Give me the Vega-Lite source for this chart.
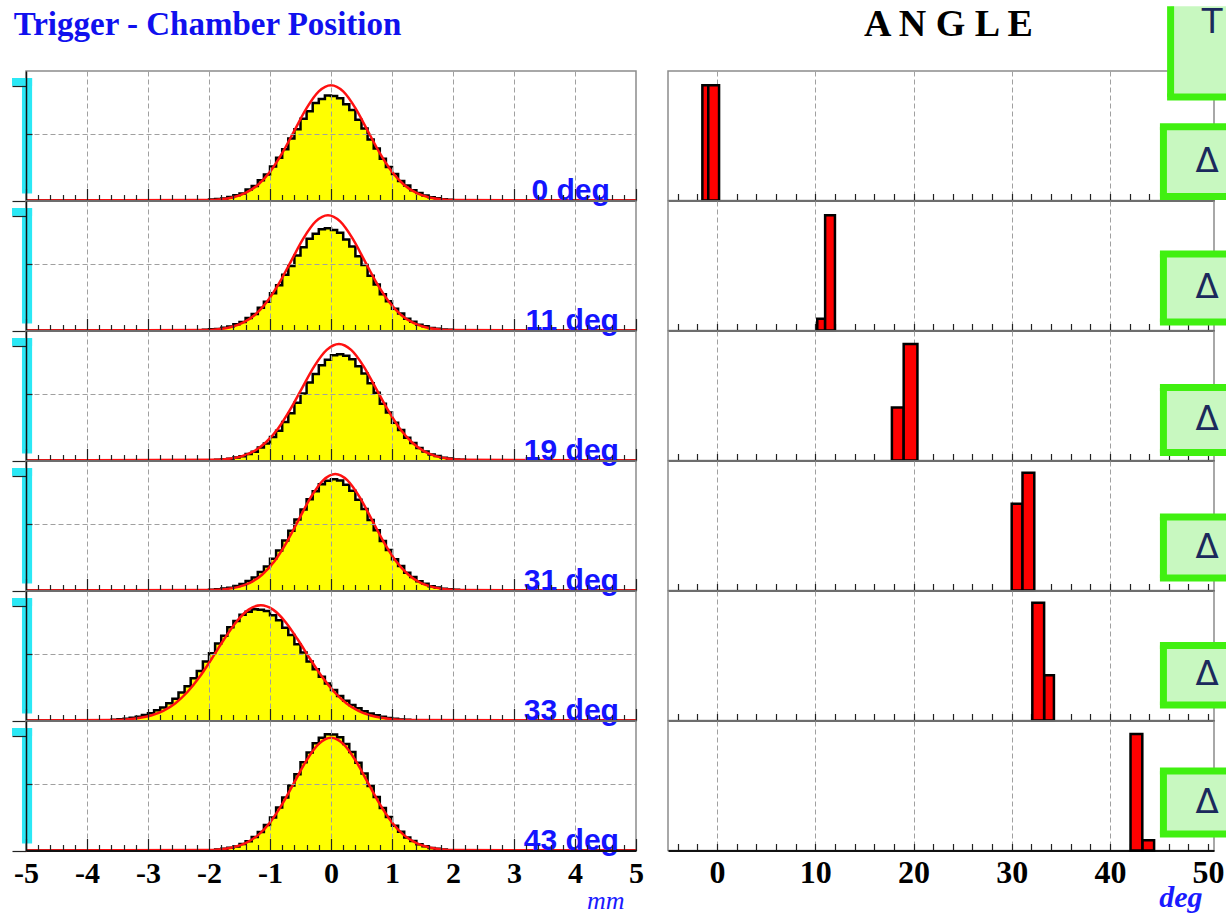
{
 "$schema": "https://vega.github.io/schema/vega-lite/v6.json",
 "background": "white",
 "padding": {"left": 10, "top": 2, "right": 0, "bottom": 0},
 "config": {
  "view": {"stroke": "#8c8c8c", "strokeWidth": 1.5},
  "axis": {"domainColor": "#111111", "domainWidth": 2, "tickColor": "#222222", "tickWidth": 1.2, "gridColor": "#a0a0a0", "gridDash": [5, 3], "gridWidth": 1, "labelFont": "Liberation Serif", "labelFontWeight": "bold", "labelColor": "black"}
 },
 "datasets": {
  "h": [
   {"a":0,"x":-5,"n":0},{"a":0,"x":-2.0,"n":0.008},{"a":0,"x":-1.9,"n":0.012},{"a":0,"x":-1.8,"n":0.016},{"a":0,"x":-1.7,"n":0.027},{"a":0,"x":-1.6,"n":0.040},{"a":0,"x":-1.5,"n":0.055},{"a":0,"x":-1.4,"n":0.084},{"a":0,"x":-1.3,"n":0.112},{"a":0,"x":-1.2,"n":0.156},{"a":0,"x":-1.1,"n":0.200},{"a":0,"x":-1.0,"n":0.262},{"a":0,"x":-0.9,"n":0.330},{"a":0,"x":-0.8,"n":0.396},{"a":0,"x":-0.7,"n":0.478},{"a":0,"x":-0.6,"n":0.550},{"a":0,"x":-0.5,"n":0.632},{"a":0,"x":-0.4,"n":0.690},{"a":0,"x":-0.3,"n":0.752},{"a":0,"x":-0.2,"n":0.784},{"a":0,"x":-0.1,"n":0.810},{"a":0,"x":0.0,"n":0.806},{"a":0,"x":0.1,"n":0.790},{"a":0,"x":0.2,"n":0.744},{"a":0,"x":0.3,"n":0.698},{"a":0,"x":0.4,"n":0.624},{"a":0,"x":0.5,"n":0.556},{"a":0,"x":0.6,"n":0.472},{"a":0,"x":0.7,"n":0.402},{"a":0,"x":0.8,"n":0.322},{"a":0,"x":0.9,"n":0.258},{"a":0,"x":1.0,"n":0.204},{"a":0,"x":1.1,"n":0.150},{"a":0,"x":1.2,"n":0.115},{"a":0,"x":1.3,"n":0.080},{"a":0,"x":1.4,"n":0.058},{"a":0,"x":1.5,"n":0.038},{"a":0,"x":1.6,"n":0.025},{"a":0,"x":1.7,"n":0.017},{"a":0,"x":1.8,"n":0.010},{"a":0,"x":1.9,"n":0.006},{"a":0,"x":2.0,"n":0},{"a":0,"x":5,"n":0},
   {"a":11,"x":-5,"n":0},{"a":11,"x":-2.1,"n":0.005},{"a":11,"x":-2.0,"n":0.009},{"a":11,"x":-1.9,"n":0.012},{"a":11,"x":-1.8,"n":0.022},{"a":11,"x":-1.7,"n":0.030},{"a":11,"x":-1.6,"n":0.048},{"a":11,"x":-1.5,"n":0.066},{"a":11,"x":-1.4,"n":0.096},{"a":11,"x":-1.3,"n":0.127},{"a":11,"x":-1.2,"n":0.175},{"a":11,"x":-1.1,"n":0.222},{"a":11,"x":-1.0,"n":0.288},{"a":11,"x":-0.9,"n":0.350},{"a":11,"x":-0.8,"n":0.430},{"a":11,"x":-0.7,"n":0.498},{"a":11,"x":-0.6,"n":0.580},{"a":11,"x":-0.5,"n":0.642},{"a":11,"x":-0.4,"n":0.708},{"a":11,"x":-0.3,"n":0.748},{"a":11,"x":-0.2,"n":0.782},{"a":11,"x":-0.1,"n":0.790},{"a":11,"x":0.0,"n":0.776},{"a":11,"x":0.1,"n":0.754},{"a":11,"x":0.2,"n":0.702},{"a":11,"x":0.3,"n":0.648},{"a":11,"x":0.4,"n":0.574},{"a":11,"x":0.5,"n":0.505},{"a":11,"x":0.6,"n":0.422},{"a":11,"x":0.7,"n":0.356},{"a":11,"x":0.8,"n":0.280},{"a":11,"x":0.9,"n":0.226},{"a":11,"x":1.0,"n":0.168},{"a":11,"x":1.1,"n":0.131},{"a":11,"x":1.2,"n":0.091},{"a":11,"x":1.3,"n":0.068},{"a":11,"x":1.4,"n":0.044},{"a":11,"x":1.5,"n":0.032},{"a":11,"x":1.6,"n":0.020},{"a":11,"x":1.7,"n":0.014},{"a":11,"x":1.8,"n":0.008},{"a":11,"x":1.9,"n":0.005},{"a":11,"x":2.0,"n":0},{"a":11,"x":5,"n":0},
   {"a":19,"x":-5,"n":0},{"a":19,"x":-1.9,"n":0.005},{"a":19,"x":-1.8,"n":0.010},{"a":19,"x":-1.7,"n":0.013},{"a":19,"x":-1.6,"n":0.023},{"a":19,"x":-1.5,"n":0.032},{"a":19,"x":-1.4,"n":0.050},{"a":19,"x":-1.3,"n":0.068},{"a":19,"x":-1.2,"n":0.100},{"a":19,"x":-1.1,"n":0.132},{"a":19,"x":-1.0,"n":0.182},{"a":19,"x":-0.9,"n":0.230},{"a":19,"x":-0.8,"n":0.298},{"a":19,"x":-0.7,"n":0.364},{"a":19,"x":-0.6,"n":0.446},{"a":19,"x":-0.5,"n":0.518},{"a":19,"x":-0.4,"n":0.602},{"a":19,"x":-0.3,"n":0.668},{"a":19,"x":-0.2,"n":0.735},{"a":19,"x":-0.1,"n":0.778},{"a":19,"x":0.0,"n":0.812},{"a":19,"x":0.1,"n":0.820},{"a":19,"x":0.2,"n":0.808},{"a":19,"x":0.3,"n":0.782},{"a":19,"x":0.4,"n":0.728},{"a":19,"x":0.5,"n":0.672},{"a":19,"x":0.6,"n":0.596},{"a":19,"x":0.7,"n":0.524},{"a":19,"x":0.8,"n":0.438},{"a":19,"x":0.9,"n":0.370},{"a":19,"x":1.0,"n":0.292},{"a":19,"x":1.1,"n":0.236},{"a":19,"x":1.2,"n":0.176},{"a":19,"x":1.3,"n":0.136},{"a":19,"x":1.4,"n":0.096},{"a":19,"x":1.5,"n":0.070},{"a":19,"x":1.6,"n":0.047},{"a":19,"x":1.7,"n":0.034},{"a":19,"x":1.8,"n":0.021},{"a":19,"x":1.9,"n":0.015},{"a":19,"x":2.0,"n":0.008},{"a":19,"x":2.1,"n":0.005},{"a":19,"x":2.2,"n":0},{"a":19,"x":5,"n":0},
   {"a":31,"x":-5,"n":0},{"a":31,"x":-2.0,"n":0.006},{"a":31,"x":-1.9,"n":0.009},{"a":31,"x":-1.8,"n":0.016},{"a":31,"x":-1.7,"n":0.022},{"a":31,"x":-1.6,"n":0.035},{"a":31,"x":-1.5,"n":0.050},{"a":31,"x":-1.4,"n":0.074},{"a":31,"x":-1.3,"n":0.101},{"a":31,"x":-1.2,"n":0.142},{"a":31,"x":-1.1,"n":0.185},{"a":31,"x":-1.0,"n":0.246},{"a":31,"x":-0.9,"n":0.308},{"a":31,"x":-0.8,"n":0.386},{"a":31,"x":-0.7,"n":0.462},{"a":31,"x":-0.6,"n":0.548},{"a":31,"x":-0.5,"n":0.626},{"a":31,"x":-0.4,"n":0.705},{"a":31,"x":-0.3,"n":0.766},{"a":31,"x":-0.2,"n":0.820},{"a":31,"x":-0.1,"n":0.848},{"a":31,"x":0.0,"n":0.860},{"a":31,"x":0.1,"n":0.850},{"a":31,"x":0.2,"n":0.816},{"a":31,"x":0.3,"n":0.770},{"a":31,"x":0.4,"n":0.700},{"a":31,"x":0.5,"n":0.630},{"a":31,"x":0.6,"n":0.544},{"a":31,"x":0.7,"n":0.466},{"a":31,"x":0.8,"n":0.382},{"a":31,"x":0.9,"n":0.312},{"a":31,"x":1.0,"n":0.242},{"a":31,"x":1.1,"n":0.189},{"a":31,"x":1.2,"n":0.138},{"a":31,"x":1.3,"n":0.104},{"a":31,"x":1.4,"n":0.071},{"a":31,"x":1.5,"n":0.052},{"a":31,"x":1.6,"n":0.033},{"a":31,"x":1.7,"n":0.024},{"a":31,"x":1.8,"n":0.014},{"a":31,"x":1.9,"n":0.010},{"a":31,"x":2.0,"n":0.006},{"a":31,"x":2.1,"n":0},{"a":31,"x":5,"n":0},
   {"a":33,"x":-5,"n":0},{"a":33,"x":-3.6,"n":0.006},{"a":33,"x":-3.5,"n":0.009},{"a":33,"x":-3.4,"n":0.013},{"a":33,"x":-3.3,"n":0.022},{"a":33,"x":-3.2,"n":0.028},{"a":33,"x":-3.1,"n":0.042},{"a":33,"x":-3.0,"n":0.056},{"a":33,"x":-2.9,"n":0.079},{"a":33,"x":-2.8,"n":0.100},{"a":33,"x":-2.7,"n":0.134},{"a":33,"x":-2.6,"n":0.168},{"a":33,"x":-2.5,"n":0.216},{"a":33,"x":-2.4,"n":0.264},{"a":33,"x":-2.3,"n":0.326},{"a":33,"x":-2.2,"n":0.383},{"a":33,"x":-2.1,"n":0.455},{"a":33,"x":-2.0,"n":0.520},{"a":33,"x":-1.9,"n":0.594},{"a":33,"x":-1.8,"n":0.655},{"a":33,"x":-1.7,"n":0.720},{"a":33,"x":-1.6,"n":0.768},{"a":33,"x":-1.5,"n":0.816},{"a":33,"x":-1.4,"n":0.840},{"a":33,"x":-1.3,"n":0.860},{"a":33,"x":-1.2,"n":0.856},{"a":33,"x":-1.1,"n":0.846},{"a":33,"x":-1.0,"n":0.812},{"a":33,"x":-0.9,"n":0.774},{"a":33,"x":-0.8,"n":0.716},{"a":33,"x":-0.7,"n":0.660},{"a":33,"x":-0.6,"n":0.588},{"a":33,"x":-0.5,"n":0.526},{"a":33,"x":-0.4,"n":0.455},{"a":33,"x":-0.3,"n":0.395},{"a":33,"x":-0.2,"n":0.338},{"a":33,"x":-0.1,"n":0.285},{"a":33,"x":0.0,"n":0.235},{"a":33,"x":0.1,"n":0.190},{"a":33,"x":0.2,"n":0.152},{"a":33,"x":0.3,"n":0.120},{"a":33,"x":0.4,"n":0.094},{"a":33,"x":0.5,"n":0.072},{"a":33,"x":0.6,"n":0.055},{"a":33,"x":0.7,"n":0.040},{"a":33,"x":0.8,"n":0.029},{"a":33,"x":0.9,"n":0.020},{"a":33,"x":1.0,"n":0.013},{"a":33,"x":1.1,"n":0.008},{"a":33,"x":1.2,"n":0.005},{"a":33,"x":1.3,"n":0},{"a":33,"x":5,"n":0},
   {"a":43,"x":-5,"n":0},{"a":43,"x":-1.9,"n":0.008},{"a":43,"x":-1.8,"n":0.013},{"a":43,"x":-1.7,"n":0.022},{"a":43,"x":-1.6,"n":0.031},{"a":43,"x":-1.5,"n":0.050},{"a":43,"x":-1.4,"n":0.071},{"a":43,"x":-1.3,"n":0.104},{"a":43,"x":-1.2,"n":0.142},{"a":43,"x":-1.1,"n":0.196},{"a":43,"x":-1.0,"n":0.255},{"a":43,"x":-0.9,"n":0.332},{"a":43,"x":-0.8,"n":0.410},{"a":43,"x":-0.7,"n":0.502},{"a":43,"x":-0.6,"n":0.588},{"a":43,"x":-0.5,"n":0.682},{"a":43,"x":-0.4,"n":0.757},{"a":43,"x":-0.3,"n":0.828},{"a":43,"x":-0.2,"n":0.870},{"a":43,"x":-0.1,"n":0.898},{"a":43,"x":0.0,"n":0.895},{"a":43,"x":0.1,"n":0.874},{"a":43,"x":0.2,"n":0.822},{"a":43,"x":0.3,"n":0.761},{"a":43,"x":0.4,"n":0.678},{"a":43,"x":0.5,"n":0.594},{"a":43,"x":0.6,"n":0.498},{"a":43,"x":0.7,"n":0.414},{"a":43,"x":0.8,"n":0.328},{"a":43,"x":0.9,"n":0.259},{"a":43,"x":1.0,"n":0.192},{"a":43,"x":1.1,"n":0.145},{"a":43,"x":1.2,"n":0.101},{"a":43,"x":1.3,"n":0.073},{"a":43,"x":1.4,"n":0.048},{"a":43,"x":1.5,"n":0.033},{"a":43,"x":1.6,"n":0.020},{"a":43,"x":1.7,"n":0.013},{"a":43,"x":1.8,"n":0.008},{"a":43,"x":1.9,"n":0},{"a":43,"x":5,"n":0}
  ],
  "f": [
   {"a":0,"x":-5,"n":0},{"a":0,"x":-2.0,"n":0.003},{"a":0,"x":-1.8,"n":0.010},{"a":0,"x":-1.6,"n":0.025},{"a":0,"x":-1.4,"n":0.058},{"a":0,"x":-1.2,"n":0.120},{"a":0,"x":-1.0,"n":0.222},{"a":0,"x":-0.8,"n":0.366},{"a":0,"x":-0.6,"n":0.540},{"a":0,"x":-0.4,"n":0.713},{"a":0,"x":-0.2,"n":0.842},{"a":0,"x":0,"n":0.89},{"a":0,"x":0.2,"n":0.842},{"a":0,"x":0.4,"n":0.713},{"a":0,"x":0.6,"n":0.540},{"a":0,"x":0.8,"n":0.366},{"a":0,"x":1.0,"n":0.222},{"a":0,"x":1.2,"n":0.120},{"a":0,"x":1.4,"n":0.058},{"a":0,"x":1.6,"n":0.025},{"a":0,"x":1.8,"n":0.010},{"a":0,"x":2.0,"n":0.003},{"a":0,"x":5,"n":0},
   {"a":11,"x":-5,"n":0},{"a":11,"x":-2.05,"n":0.003},{"a":11,"x":-1.85,"n":0.010},{"a":11,"x":-1.65,"n":0.025},{"a":11,"x":-1.45,"n":0.058},{"a":11,"x":-1.25,"n":0.120},{"a":11,"x":-1.05,"n":0.222},{"a":11,"x":-0.85,"n":0.366},{"a":11,"x":-0.65,"n":0.540},{"a":11,"x":-0.45,"n":0.713},{"a":11,"x":-0.25,"n":0.842},{"a":11,"x":-0.05,"n":0.89},{"a":11,"x":0.15,"n":0.842},{"a":11,"x":0.35,"n":0.713},{"a":11,"x":0.55,"n":0.540},{"a":11,"x":0.75,"n":0.366},{"a":11,"x":0.95,"n":0.222},{"a":11,"x":1.15,"n":0.120},{"a":11,"x":1.35,"n":0.058},{"a":11,"x":1.55,"n":0.025},{"a":11,"x":1.75,"n":0.010},{"a":11,"x":1.95,"n":0.003},{"a":11,"x":5,"n":0},
   {"a":19,"x":-5,"n":0},{"a":19,"x":-1.87,"n":0.005},{"a":19,"x":-1.67,"n":0.013},{"a":19,"x":-1.47,"n":0.032},{"a":19,"x":-1.27,"n":0.070},{"a":19,"x":-1.07,"n":0.139},{"a":19,"x":-0.87,"n":0.245},{"a":19,"x":-0.67,"n":0.392},{"a":19,"x":-0.47,"n":0.563},{"a":19,"x":-0.27,"n":0.731},{"a":19,"x":-0.07,"n":0.854},{"a":19,"x":0.13,"n":0.90},{"a":19,"x":0.33,"n":0.854},{"a":19,"x":0.53,"n":0.731},{"a":19,"x":0.73,"n":0.563},{"a":19,"x":0.93,"n":0.392},{"a":19,"x":1.13,"n":0.245},{"a":19,"x":1.33,"n":0.139},{"a":19,"x":1.53,"n":0.070},{"a":19,"x":1.73,"n":0.032},{"a":19,"x":1.93,"n":0.013},{"a":19,"x":2.13,"n":0.005},{"a":19,"x":5,"n":0},
   {"a":31,"x":-5,"n":0},{"a":31,"x":-1.93,"n":0.004},{"a":31,"x":-1.73,"n":0.010},{"a":31,"x":-1.53,"n":0.026},{"a":31,"x":-1.33,"n":0.059},{"a":31,"x":-1.13,"n":0.122},{"a":31,"x":-0.93,"n":0.224},{"a":31,"x":-0.73,"n":0.370},{"a":31,"x":-0.53,"n":0.546},{"a":31,"x":-0.33,"n":0.721},{"a":31,"x":-0.13,"n":0.851},{"a":31,"x":0.07,"n":0.90},{"a":31,"x":0.27,"n":0.851},{"a":31,"x":0.47,"n":0.721},{"a":31,"x":0.67,"n":0.546},{"a":31,"x":0.87,"n":0.370},{"a":31,"x":1.07,"n":0.224},{"a":31,"x":1.27,"n":0.122},{"a":31,"x":1.47,"n":0.059},{"a":31,"x":1.67,"n":0.026},{"a":31,"x":1.87,"n":0.010},{"a":31,"x":2.07,"n":0.004},{"a":31,"x":5,"n":0},
   {"a":33,"x":-5,"n":0},{"a":33,"x":-3.55,"n":0.003},{"a":33,"x":-3.35,"n":0.008},{"a":33,"x":-3.15,"n":0.019},{"a":33,"x":-2.95,"n":0.039},{"a":33,"x":-2.75,"n":0.075},{"a":33,"x":-2.55,"n":0.134},{"a":33,"x":-2.35,"n":0.222},{"a":33,"x":-2.15,"n":0.339},{"a":33,"x":-1.95,"n":0.481},{"a":33,"x":-1.75,"n":0.629},{"a":33,"x":-1.55,"n":0.763},{"a":33,"x":-1.35,"n":0.856},{"a":33,"x":-1.15,"n":0.89},{"a":33,"x":-0.95,"n":0.856},{"a":33,"x":-0.75,"n":0.763},{"a":33,"x":-0.55,"n":0.629},{"a":33,"x":-0.35,"n":0.481},{"a":33,"x":-0.15,"n":0.339},{"a":33,"x":0.05,"n":0.222},{"a":33,"x":0.25,"n":0.134},{"a":33,"x":0.45,"n":0.075},{"a":33,"x":0.65,"n":0.039},{"a":33,"x":0.85,"n":0.019},{"a":33,"x":1.05,"n":0.008},{"a":33,"x":1.25,"n":0.003},{"a":33,"x":5,"n":0},
   {"a":43,"x":-5,"n":0},{"a":43,"x":-2.0,"n":0.003},{"a":43,"x":-1.8,"n":0.010},{"a":43,"x":-1.6,"n":0.025},{"a":43,"x":-1.4,"n":0.057},{"a":43,"x":-1.2,"n":0.117},{"a":43,"x":-1.0,"n":0.217},{"a":43,"x":-0.8,"n":0.358},{"a":43,"x":-0.6,"n":0.528},{"a":43,"x":-0.4,"n":0.697},{"a":43,"x":-0.2,"n":0.823},{"a":43,"x":0,"n":0.87},{"a":43,"x":0.2,"n":0.823},{"a":43,"x":0.4,"n":0.697},{"a":43,"x":0.6,"n":0.528},{"a":43,"x":0.8,"n":0.358},{"a":43,"x":1.0,"n":0.217},{"a":43,"x":1.2,"n":0.117},{"a":43,"x":1.4,"n":0.057},{"a":43,"x":1.6,"n":0.025},{"a":43,"x":1.8,"n":0.010},{"a":43,"x":2.0,"n":0.003},{"a":43,"x":5,"n":0}
  ],
  "b": [
   {"a":0,"lo":-1.5,"hi":-0.9,"n":0.89},{"a":0,"lo":-0.9,"hi":0.2,"n":0.89},
   {"a":11,"lo":10.2,"hi":11.0,"n":0.09},{"a":11,"lo":11.0,"hi":12.0,"n":0.89},
   {"a":19,"lo":17.8,"hi":19.0,"n":0.41},{"a":19,"lo":19.0,"hi":20.4,"n":0.90},
   {"a":31,"lo":30.0,"hi":31.1,"n":0.67},{"a":31,"lo":31.1,"hi":32.3,"n":0.91},
   {"a":33,"lo":33.3,"hi":34.3,"n":0.35},{"a":33,"lo":32.1,"hi":33.3,"n":0.91},
   {"a":43,"lo":43.3,"hi":44.5,"n":0.08},{"a":43,"lo":42.1,"hi":43.3,"n":0.90}
  ]
 },
 "spacing": 22,
 "hconcat": [
  {
   "title": {"text": "Trigger - Chamber Position", "anchor": "start", "font": "Liberation Serif", "fontSize": 33, "fontWeight": "bold", "color": "#1010ee", "offset": 28, "dx": 3},
   "spacing": 0,
   "bounds": "flush",
   "vconcat": [
    {"width": 610, "height": 129.5, "layer": [
     {"data": {"values": [{}]}, "mark": {"type": "rect", "color": "#2be8f5"}, "encoding": {"x": {"datum": -5.066}, "x2": {"datum": -4.9}, "y": {"datum": 0.054}, "y2": {"datum": 0.946}}},
     {"data": {"values": [{}]}, "mark": {"type": "rect", "color": "#2be8f5"}, "encoding": {"x": {"datum": -5.23}, "x2": {"datum": -4.9}, "y": {"datum": 0.885}, "y2": {"datum": 0.946}}},
     {"data": {"name": "h"}, "transform": [{"filter": "datum.a == 0"}], "mark": {"type": "area", "interpolate": "step-after", "color": "#ffff00"},
      "encoding": {"x": {"field": "x", "type": "quantitative", "scale": {"domain": [-5, 5], "nice": false, "zero": false}, "axis": {"zindex": 1, "tickCount": 50, "labels": false, "title": null, "grid": true, "tickSize": {"condition": {"test": "abs(datum.value - round(datum.value)) < 0.01", "value": -12}, "value": -6}, "gridOpacity": {"condition": {"test": "abs(datum.value - round(datum.value)) < 0.01 && abs(datum.value) < 4.5", "value": 1}, "value": 0}}},
       "y": {"field": "n", "type": "quantitative", "scale": {"domain": [0, 1], "nice": false}, "axis": {"zindex": 1, "values": [0, 0.26, 0.51, 0.77, 0.885], "labels": false, "title": null, "grid": true, "gridOpacity": {"condition": {"test": "abs(datum.value - 0.51) < 0.01", "value": 1}, "value": 0}, "tickSize": {"condition": {"test": "datum.value < 0.01 || datum.value > 0.88", "value": 14}, "value": -6}, "domainWidth": 1.5}}}},
     {"data": {"name": "h"}, "transform": [{"filter": "datum.a == 0"}], "mark": {"type": "line", "interpolate": "step-after", "color": "black", "strokeWidth": 2.5}, "encoding": {"x": {"field": "x", "type": "quantitative"}, "y": {"field": "n", "type": "quantitative"}}},
     {"data": {"name": "f"}, "transform": [{"filter": "datum.a == 0"}], "mark": {"type": "line", "interpolate": "monotone", "color": "#ff1010", "strokeWidth": 2.5}, "encoding": {"x": {"field": "x", "type": "quantitative"}, "y": {"field": "n", "type": "quantitative"}}},
     {"data": {"values": [{"t": "0 deg"}]}, "mark": {"type": "text", "align": "right", "baseline": "alphabetic", "font": "Liberation Sans", "fontWeight": "bold", "fontSize": 30, "color": "#1414ff", "dy": -1}, "encoding": {"x": {"datum": 4.57}, "y": {"datum": 0}, "text": {"field": "t"}}}
    ]},
    {"width": 610, "height": 129.5, "layer": [
     {"data": {"values": [{}]}, "mark": {"type": "rect", "color": "#2be8f5"}, "encoding": {"x": {"datum": -5.066}, "x2": {"datum": -4.9}, "y": {"datum": 0.054}, "y2": {"datum": 0.946}}},
     {"data": {"values": [{}]}, "mark": {"type": "rect", "color": "#2be8f5"}, "encoding": {"x": {"datum": -5.23}, "x2": {"datum": -4.9}, "y": {"datum": 0.885}, "y2": {"datum": 0.946}}},
     {"data": {"name": "h"}, "transform": [{"filter": "datum.a == 11"}], "mark": {"type": "area", "interpolate": "step-after", "color": "#ffff00"},
      "encoding": {"x": {"field": "x", "type": "quantitative", "scale": {"domain": [-5, 5], "nice": false, "zero": false}, "axis": {"zindex": 1, "tickCount": 50, "labels": false, "title": null, "grid": true, "tickSize": {"condition": {"test": "abs(datum.value - round(datum.value)) < 0.01", "value": -12}, "value": -6}, "gridOpacity": {"condition": {"test": "abs(datum.value - round(datum.value)) < 0.01 && abs(datum.value) < 4.5", "value": 1}, "value": 0}}},
       "y": {"field": "n", "type": "quantitative", "scale": {"domain": [0, 1], "nice": false}, "axis": {"zindex": 1, "values": [0, 0.26, 0.51, 0.77, 0.885], "labels": false, "title": null, "grid": true, "gridOpacity": {"condition": {"test": "abs(datum.value - 0.51) < 0.01", "value": 1}, "value": 0}, "tickSize": {"condition": {"test": "datum.value < 0.01 || datum.value > 0.88", "value": 14}, "value": -6}, "domainWidth": 1.5}}}},
     {"data": {"name": "h"}, "transform": [{"filter": "datum.a == 11"}], "mark": {"type": "line", "interpolate": "step-after", "color": "black", "strokeWidth": 2.5}, "encoding": {"x": {"field": "x", "type": "quantitative"}, "y": {"field": "n", "type": "quantitative"}}},
     {"data": {"name": "f"}, "transform": [{"filter": "datum.a == 11"}], "mark": {"type": "line", "interpolate": "monotone", "color": "#ff1010", "strokeWidth": 2.5}, "encoding": {"x": {"field": "x", "type": "quantitative"}, "y": {"field": "n", "type": "quantitative"}}},
     {"data": {"values": [{"t": "11 deg"}]}, "mark": {"type": "text", "align": "right", "baseline": "alphabetic", "font": "Liberation Sans", "fontWeight": "bold", "fontSize": 30, "color": "#1414ff", "dy": -1}, "encoding": {"x": {"datum": 4.72}, "y": {"datum": 0}, "text": {"field": "t"}}}
    ]},
    {"width": 610, "height": 129.5, "layer": [
     {"data": {"values": [{}]}, "mark": {"type": "rect", "color": "#2be8f5"}, "encoding": {"x": {"datum": -5.066}, "x2": {"datum": -4.9}, "y": {"datum": 0.054}, "y2": {"datum": 0.946}}},
     {"data": {"values": [{}]}, "mark": {"type": "rect", "color": "#2be8f5"}, "encoding": {"x": {"datum": -5.23}, "x2": {"datum": -4.9}, "y": {"datum": 0.885}, "y2": {"datum": 0.946}}},
     {"data": {"name": "h"}, "transform": [{"filter": "datum.a == 19"}], "mark": {"type": "area", "interpolate": "step-after", "color": "#ffff00"},
      "encoding": {"x": {"field": "x", "type": "quantitative", "scale": {"domain": [-5, 5], "nice": false, "zero": false}, "axis": {"zindex": 1, "tickCount": 50, "labels": false, "title": null, "grid": true, "tickSize": {"condition": {"test": "abs(datum.value - round(datum.value)) < 0.01", "value": -12}, "value": -6}, "gridOpacity": {"condition": {"test": "abs(datum.value - round(datum.value)) < 0.01 && abs(datum.value) < 4.5", "value": 1}, "value": 0}}},
       "y": {"field": "n", "type": "quantitative", "scale": {"domain": [0, 1], "nice": false}, "axis": {"zindex": 1, "values": [0, 0.26, 0.51, 0.77, 0.885], "labels": false, "title": null, "grid": true, "gridOpacity": {"condition": {"test": "abs(datum.value - 0.51) < 0.01", "value": 1}, "value": 0}, "tickSize": {"condition": {"test": "datum.value < 0.01 || datum.value > 0.88", "value": 14}, "value": -6}, "domainWidth": 1.5}}}},
     {"data": {"name": "h"}, "transform": [{"filter": "datum.a == 19"}], "mark": {"type": "line", "interpolate": "step-after", "color": "black", "strokeWidth": 2.5}, "encoding": {"x": {"field": "x", "type": "quantitative"}, "y": {"field": "n", "type": "quantitative"}}},
     {"data": {"name": "f"}, "transform": [{"filter": "datum.a == 19"}], "mark": {"type": "line", "interpolate": "monotone", "color": "#ff1010", "strokeWidth": 2.5}, "encoding": {"x": {"field": "x", "type": "quantitative"}, "y": {"field": "n", "type": "quantitative"}}},
     {"data": {"values": [{"t": "19 deg"}]}, "mark": {"type": "text", "align": "right", "baseline": "alphabetic", "font": "Liberation Sans", "fontWeight": "bold", "fontSize": 30, "color": "#1414ff", "dy": -1}, "encoding": {"x": {"datum": 4.72}, "y": {"datum": 0}, "text": {"field": "t"}}}
    ]},
    {"width": 610, "height": 129.5, "layer": [
     {"data": {"values": [{}]}, "mark": {"type": "rect", "color": "#2be8f5"}, "encoding": {"x": {"datum": -5.066}, "x2": {"datum": -4.9}, "y": {"datum": 0.054}, "y2": {"datum": 0.946}}},
     {"data": {"values": [{}]}, "mark": {"type": "rect", "color": "#2be8f5"}, "encoding": {"x": {"datum": -5.23}, "x2": {"datum": -4.9}, "y": {"datum": 0.885}, "y2": {"datum": 0.946}}},
     {"data": {"name": "h"}, "transform": [{"filter": "datum.a == 31"}], "mark": {"type": "area", "interpolate": "step-after", "color": "#ffff00"},
      "encoding": {"x": {"field": "x", "type": "quantitative", "scale": {"domain": [-5, 5], "nice": false, "zero": false}, "axis": {"zindex": 1, "tickCount": 50, "labels": false, "title": null, "grid": true, "tickSize": {"condition": {"test": "abs(datum.value - round(datum.value)) < 0.01", "value": -12}, "value": -6}, "gridOpacity": {"condition": {"test": "abs(datum.value - round(datum.value)) < 0.01 && abs(datum.value) < 4.5", "value": 1}, "value": 0}}},
       "y": {"field": "n", "type": "quantitative", "scale": {"domain": [0, 1], "nice": false}, "axis": {"zindex": 1, "values": [0, 0.26, 0.51, 0.77, 0.885], "labels": false, "title": null, "grid": true, "gridOpacity": {"condition": {"test": "abs(datum.value - 0.51) < 0.01", "value": 1}, "value": 0}, "tickSize": {"condition": {"test": "datum.value < 0.01 || datum.value > 0.88", "value": 14}, "value": -6}, "domainWidth": 1.5}}}},
     {"data": {"name": "h"}, "transform": [{"filter": "datum.a == 31"}], "mark": {"type": "line", "interpolate": "step-after", "color": "black", "strokeWidth": 2.5}, "encoding": {"x": {"field": "x", "type": "quantitative"}, "y": {"field": "n", "type": "quantitative"}}},
     {"data": {"name": "f"}, "transform": [{"filter": "datum.a == 31"}], "mark": {"type": "line", "interpolate": "monotone", "color": "#ff1010", "strokeWidth": 2.5}, "encoding": {"x": {"field": "x", "type": "quantitative"}, "y": {"field": "n", "type": "quantitative"}}},
     {"data": {"values": [{"t": "31 deg"}]}, "mark": {"type": "text", "align": "right", "baseline": "alphabetic", "font": "Liberation Sans", "fontWeight": "bold", "fontSize": 30, "color": "#1414ff", "dy": -1}, "encoding": {"x": {"datum": 4.72}, "y": {"datum": 0}, "text": {"field": "t"}}}
    ]},
    {"width": 610, "height": 129.5, "layer": [
     {"data": {"values": [{}]}, "mark": {"type": "rect", "color": "#2be8f5"}, "encoding": {"x": {"datum": -5.066}, "x2": {"datum": -4.9}, "y": {"datum": 0.054}, "y2": {"datum": 0.946}}},
     {"data": {"values": [{}]}, "mark": {"type": "rect", "color": "#2be8f5"}, "encoding": {"x": {"datum": -5.23}, "x2": {"datum": -4.9}, "y": {"datum": 0.885}, "y2": {"datum": 0.946}}},
     {"data": {"name": "h"}, "transform": [{"filter": "datum.a == 33"}], "mark": {"type": "area", "interpolate": "step-after", "color": "#ffff00"},
      "encoding": {"x": {"field": "x", "type": "quantitative", "scale": {"domain": [-5, 5], "nice": false, "zero": false}, "axis": {"zindex": 1, "tickCount": 50, "labels": false, "title": null, "grid": true, "tickSize": {"condition": {"test": "abs(datum.value - round(datum.value)) < 0.01", "value": -12}, "value": -6}, "gridOpacity": {"condition": {"test": "abs(datum.value - round(datum.value)) < 0.01 && abs(datum.value) < 4.5", "value": 1}, "value": 0}}},
       "y": {"field": "n", "type": "quantitative", "scale": {"domain": [0, 1], "nice": false}, "axis": {"zindex": 1, "values": [0, 0.26, 0.51, 0.77, 0.885], "labels": false, "title": null, "grid": true, "gridOpacity": {"condition": {"test": "abs(datum.value - 0.51) < 0.01", "value": 1}, "value": 0}, "tickSize": {"condition": {"test": "datum.value < 0.01 || datum.value > 0.88", "value": 14}, "value": -6}, "domainWidth": 1.5}}}},
     {"data": {"name": "h"}, "transform": [{"filter": "datum.a == 33"}], "mark": {"type": "line", "interpolate": "step-after", "color": "black", "strokeWidth": 2.5}, "encoding": {"x": {"field": "x", "type": "quantitative"}, "y": {"field": "n", "type": "quantitative"}}},
     {"data": {"name": "f"}, "transform": [{"filter": "datum.a == 33"}], "mark": {"type": "line", "interpolate": "monotone", "color": "#ff1010", "strokeWidth": 2.5}, "encoding": {"x": {"field": "x", "type": "quantitative"}, "y": {"field": "n", "type": "quantitative"}}},
     {"data": {"values": [{"t": "33 deg"}]}, "mark": {"type": "text", "align": "right", "baseline": "alphabetic", "font": "Liberation Sans", "fontWeight": "bold", "fontSize": 30, "color": "#1414ff", "dy": -1}, "encoding": {"x": {"datum": 4.72}, "y": {"datum": 0}, "text": {"field": "t"}}}
    ]},
    {"width": 610, "height": 129.5, "layer": [
     {"data": {"values": [{}]}, "mark": {"type": "rect", "color": "#2be8f5"}, "encoding": {"x": {"datum": -5.066}, "x2": {"datum": -4.9}, "y": {"datum": 0.054}, "y2": {"datum": 0.946}}},
     {"data": {"values": [{}]}, "mark": {"type": "rect", "color": "#2be8f5"}, "encoding": {"x": {"datum": -5.23}, "x2": {"datum": -4.9}, "y": {"datum": 0.885}, "y2": {"datum": 0.946}}},
     {"data": {"name": "h"}, "transform": [{"filter": "datum.a == 43"}], "mark": {"type": "area", "interpolate": "step-after", "color": "#ffff00"},
      "encoding": {"x": {"field": "x", "type": "quantitative", "scale": {"domain": [-5, 5], "nice": false, "zero": false}, "axis": {"zindex": 1, "tickCount": 50, "labels": true, "labelExpr": "abs(datum.value - round(datum.value)) < 0.01 ? '' + round(datum.value) : ''", "labelOverlap": false, "labelFlush": false, "labelFontSize": 30, "labelPadding": 20, "title": "mm", "titleFont": "Liberation Serif", "titleFontStyle": "italic", "titleFontWeight": "normal", "titleFontSize": 26, "titleColor": "#1a1aff", "titleAnchor": "end", "titleAlign": "right", "titleX": 598, "titleY": 50, "titleBaseline": "middle", "grid": true, "tickSize": {"condition": {"test": "abs(datum.value - round(datum.value)) < 0.01", "value": -12}, "value": -6}, "gridOpacity": {"condition": {"test": "abs(datum.value - round(datum.value)) < 0.01 && abs(datum.value) < 4.5", "value": 1}, "value": 0}}},
       "y": {"field": "n", "type": "quantitative", "scale": {"domain": [0, 1], "nice": false}, "axis": {"zindex": 1, "values": [0, 0.26, 0.51, 0.77, 0.885], "labels": false, "title": null, "grid": true, "gridOpacity": {"condition": {"test": "abs(datum.value - 0.51) < 0.01", "value": 1}, "value": 0}, "tickSize": {"condition": {"test": "datum.value < 0.01 || datum.value > 0.88", "value": 14}, "value": -6}, "domainWidth": 1.5}}}},
     {"data": {"name": "h"}, "transform": [{"filter": "datum.a == 43"}], "mark": {"type": "line", "interpolate": "step-after", "color": "black", "strokeWidth": 2.5}, "encoding": {"x": {"field": "x", "type": "quantitative"}, "y": {"field": "n", "type": "quantitative"}}},
     {"data": {"name": "f"}, "transform": [{"filter": "datum.a == 43"}], "mark": {"type": "line", "interpolate": "monotone", "color": "#ff1010", "strokeWidth": 2.5}, "encoding": {"x": {"field": "x", "type": "quantitative"}, "y": {"field": "n", "type": "quantitative"}}},
     {"data": {"values": [{"t": "43 deg"}]}, "mark": {"type": "text", "align": "right", "baseline": "alphabetic", "font": "Liberation Sans", "fontWeight": "bold", "fontSize": 30, "color": "#1414ff", "dy": -1}, "encoding": {"x": {"datum": 4.72}, "y": {"datum": 0}, "text": {"field": "t"}}}
    ]}
   ]
  },
  {
   "title": {"text": "A N G L E", "anchor": "middle", "font": "Liberation Serif", "fontSize": 38, "fontWeight": "bold", "color": "black", "offset": -42},
   "spacing": 0,
   "bounds": "flush",
   "vconcat": [
    {"width": 546, "height": 129.5, "layer": [
     {"data": {"name": "b"}, "transform": [{"filter": "datum.a == 0"}], "mark": {"type": "rect", "color": "#ff0000", "stroke": "black", "strokeWidth": 2.5},
      "encoding": {"x": {"field": "lo", "type": "quantitative", "scale": {"domain": [-5, 50.6], "nice": false, "zero": false}, "axis": {"tickCount": 28, "labels": false, "title": null, "grid": true, "tickSize": -7, "gridOpacity": {"condition": {"test": "datum.value % 10 == 0 && datum.value < 45", "value": 1}, "value": 0}}}, "x2": {"field": "hi"}, "y": {"field": "n", "type": "quantitative", "scale": {"domain": [0, 1], "nice": false}, "axis": null}, "y2": {"datum": 0}}},
     {"data": {"values": [{}]}, "mark": {"type": "rect", "color": "#c8f8c0"}, "encoding": {"x": {"datum": 46.18}, "x2": {"datum": 51.95}, "y": {"datum": 0.8}, "y2": {"datum": 1.5}}},
     {"data": {"values": [{}]}, "mark": {"type": "rule", "color": "#40f010", "strokeWidth": 7, "strokeCap": "butt"}, "encoding": {"x": {"datum": 46.18}, "y": {"datum": 0.8}, "y2": {"datum": 1.5}}},
     {"data": {"values": [{}]}, "mark": {"type": "rule", "color": "#40f010", "strokeWidth": 7, "strokeCap": "square"}, "encoding": {"x": {"datum": 46.18}, "x2": {"datum": 51.6}, "y": {"datum": 0.8}}},
     {"data": {"values": [{"t": "T"}]}, "mark": {"type": "text", "font": "DejaVu Sans", "fontSize": 34, "color": "#1b2a5c", "align": "center", "baseline": "middle"}, "encoding": {"x": {"datum": 50.4}, "y": {"datum": 1.37}, "text": {"field": "t"}}},
     {"data": {"values": [{}]}, "mark": {"type": "rect", "color": "#c8f8c0"}, "encoding": {"x": {"datum": 45.45}, "x2": {"datum": 51.95}, "y": {"datum": 0.03}, "y2": {"datum": 0.57}}},
     {"data": {"values": [{}]}, "mark": {"type": "rule", "color": "#40f010", "strokeWidth": 7, "strokeCap": "butt"}, "encoding": {"x": {"datum": 45.45}, "y": {"datum": 0.03}, "y2": {"datum": 0.57}}},
     {"data": {"values": [{}]}, "mark": {"type": "rule", "color": "#40f010", "strokeWidth": 7, "strokeCap": "square"}, "encoding": {"x": {"datum": 45.45}, "x2": {"datum": 51.6}, "y": {"datum": 0.57}}},
     {"data": {"values": [{}]}, "mark": {"type": "rule", "color": "#40f010", "strokeWidth": 7, "strokeCap": "square"}, "encoding": {"x": {"datum": 45.45}, "x2": {"datum": 51.6}, "y": {"datum": 0.03}}},
     {"data": {"values": [{"t": "Δ"}]}, "mark": {"type": "text", "font": "DejaVu Sans", "fontSize": 34, "color": "#1b2a5c", "align": "center", "baseline": "middle"}, "encoding": {"x": {"datum": 49.9}, "y": {"datum": 0.30}, "text": {"field": "t"}}}
    ]},
    {"width": 546, "height": 129.5, "layer": [
     {"data": {"name": "b"}, "transform": [{"filter": "datum.a == 11"}], "mark": {"type": "rect", "color": "#ff0000", "stroke": "black", "strokeWidth": 2.5},
      "encoding": {"x": {"field": "lo", "type": "quantitative", "scale": {"domain": [-5, 50.6], "nice": false, "zero": false}, "axis": {"tickCount": 28, "labels": false, "title": null, "grid": true, "tickSize": -7, "gridOpacity": {"condition": {"test": "datum.value % 10 == 0 && datum.value < 45", "value": 1}, "value": 0}}}, "x2": {"field": "hi"}, "y": {"field": "n", "type": "quantitative", "scale": {"domain": [0, 1], "nice": false}, "axis": null}, "y2": {"datum": 0}}},
     {"data": {"values": [{}]}, "mark": {"type": "rect", "color": "#c8f8c0"}, "encoding": {"x": {"datum": 45.45}, "x2": {"datum": 51.95}, "y": {"datum": 0.066}, "y2": {"datum": 0.59}}},
     {"data": {"values": [{}]}, "mark": {"type": "rule", "color": "#40f010", "strokeWidth": 7, "strokeCap": "butt"}, "encoding": {"x": {"datum": 45.45}, "y": {"datum": 0.066}, "y2": {"datum": 0.59}}},
     {"data": {"values": [{}]}, "mark": {"type": "rule", "color": "#40f010", "strokeWidth": 7, "strokeCap": "square"}, "encoding": {"x": {"datum": 45.45}, "x2": {"datum": 51.6}, "y": {"datum": 0.59}}},
     {"data": {"values": [{}]}, "mark": {"type": "rule", "color": "#40f010", "strokeWidth": 7, "strokeCap": "square"}, "encoding": {"x": {"datum": 45.45}, "x2": {"datum": 51.6}, "y": {"datum": 0.066}}},
     {"data": {"values": [{"t": "Δ"}]}, "mark": {"type": "text", "font": "DejaVu Sans", "fontSize": 34, "color": "#1b2a5c", "align": "center", "baseline": "middle"}, "encoding": {"x": {"datum": 49.9}, "y": {"datum": 0.33}, "text": {"field": "t"}}}
    ]},
    {"width": 546, "height": 129.5, "layer": [
     {"data": {"name": "b"}, "transform": [{"filter": "datum.a == 19"}], "mark": {"type": "rect", "color": "#ff0000", "stroke": "black", "strokeWidth": 2.5},
      "encoding": {"x": {"field": "lo", "type": "quantitative", "scale": {"domain": [-5, 50.6], "nice": false, "zero": false}, "axis": {"tickCount": 28, "labels": false, "title": null, "grid": true, "tickSize": -7, "gridOpacity": {"condition": {"test": "datum.value % 10 == 0 && datum.value < 45", "value": 1}, "value": 0}}}, "x2": {"field": "hi"}, "y": {"field": "n", "type": "quantitative", "scale": {"domain": [0, 1], "nice": false}, "axis": null}, "y2": {"datum": 0}}},
     {"data": {"values": [{}]}, "mark": {"type": "rect", "color": "#c8f8c0"}, "encoding": {"x": {"datum": 45.45}, "x2": {"datum": 51.95}, "y": {"datum": 0.062}, "y2": {"datum": 0.563}}},
     {"data": {"values": [{}]}, "mark": {"type": "rule", "color": "#40f010", "strokeWidth": 7, "strokeCap": "butt"}, "encoding": {"x": {"datum": 45.45}, "y": {"datum": 0.062}, "y2": {"datum": 0.563}}},
     {"data": {"values": [{}]}, "mark": {"type": "rule", "color": "#40f010", "strokeWidth": 7, "strokeCap": "square"}, "encoding": {"x": {"datum": 45.45}, "x2": {"datum": 51.6}, "y": {"datum": 0.563}}},
     {"data": {"values": [{}]}, "mark": {"type": "rule", "color": "#40f010", "strokeWidth": 7, "strokeCap": "square"}, "encoding": {"x": {"datum": 45.45}, "x2": {"datum": 51.6}, "y": {"datum": 0.062}}},
     {"data": {"values": [{"t": "Δ"}]}, "mark": {"type": "text", "font": "DejaVu Sans", "fontSize": 34, "color": "#1b2a5c", "align": "center", "baseline": "middle"}, "encoding": {"x": {"datum": 49.9}, "y": {"datum": 0.31}, "text": {"field": "t"}}}
    ]},
    {"width": 546, "height": 129.5, "layer": [
     {"data": {"name": "b"}, "transform": [{"filter": "datum.a == 31"}], "mark": {"type": "rect", "color": "#ff0000", "stroke": "black", "strokeWidth": 2.5},
      "encoding": {"x": {"field": "lo", "type": "quantitative", "scale": {"domain": [-5, 50.6], "nice": false, "zero": false}, "axis": {"tickCount": 28, "labels": false, "title": null, "grid": true, "tickSize": -7, "gridOpacity": {"condition": {"test": "datum.value % 10 == 0 && datum.value < 45", "value": 1}, "value": 0}}}, "x2": {"field": "hi"}, "y": {"field": "n", "type": "quantitative", "scale": {"domain": [0, 1], "nice": false}, "axis": null}, "y2": {"datum": 0}}},
     {"data": {"values": [{}]}, "mark": {"type": "rect", "color": "#c8f8c0"}, "encoding": {"x": {"datum": 45.45}, "x2": {"datum": 51.95}, "y": {"datum": 0.097}, "y2": {"datum": 0.568}}},
     {"data": {"values": [{}]}, "mark": {"type": "rule", "color": "#40f010", "strokeWidth": 7, "strokeCap": "butt"}, "encoding": {"x": {"datum": 45.45}, "y": {"datum": 0.097}, "y2": {"datum": 0.568}}},
     {"data": {"values": [{}]}, "mark": {"type": "rule", "color": "#40f010", "strokeWidth": 7, "strokeCap": "square"}, "encoding": {"x": {"datum": 45.45}, "x2": {"datum": 51.6}, "y": {"datum": 0.568}}},
     {"data": {"values": [{}]}, "mark": {"type": "rule", "color": "#40f010", "strokeWidth": 7, "strokeCap": "square"}, "encoding": {"x": {"datum": 45.45}, "x2": {"datum": 51.6}, "y": {"datum": 0.097}}},
     {"data": {"values": [{"t": "Δ"}]}, "mark": {"type": "text", "font": "DejaVu Sans", "fontSize": 34, "color": "#1b2a5c", "align": "center", "baseline": "middle"}, "encoding": {"x": {"datum": 49.9}, "y": {"datum": 0.33}, "text": {"field": "t"}}}
    ]},
    {"width": 546, "height": 129.5, "layer": [
     {"data": {"name": "b"}, "transform": [{"filter": "datum.a == 33"}], "mark": {"type": "rect", "color": "#ff0000", "stroke": "black", "strokeWidth": 2.5},
      "encoding": {"x": {"field": "lo", "type": "quantitative", "scale": {"domain": [-5, 50.6], "nice": false, "zero": false}, "axis": {"tickCount": 28, "labels": false, "title": null, "grid": true, "tickSize": -7, "gridOpacity": {"condition": {"test": "datum.value % 10 == 0 && datum.value < 45", "value": 1}, "value": 0}}}, "x2": {"field": "hi"}, "y": {"field": "n", "type": "quantitative", "scale": {"domain": [0, 1], "nice": false}, "axis": null}, "y2": {"datum": 0}}},
     {"data": {"values": [{}]}, "mark": {"type": "rect", "color": "#c8f8c0"}, "encoding": {"x": {"datum": 45.45}, "x2": {"datum": 51.95}, "y": {"datum": 0.12}, "y2": {"datum": 0.58}}},
     {"data": {"values": [{}]}, "mark": {"type": "rule", "color": "#40f010", "strokeWidth": 7, "strokeCap": "butt"}, "encoding": {"x": {"datum": 45.45}, "y": {"datum": 0.12}, "y2": {"datum": 0.58}}},
     {"data": {"values": [{}]}, "mark": {"type": "rule", "color": "#40f010", "strokeWidth": 7, "strokeCap": "square"}, "encoding": {"x": {"datum": 45.45}, "x2": {"datum": 51.6}, "y": {"datum": 0.58}}},
     {"data": {"values": [{}]}, "mark": {"type": "rule", "color": "#40f010", "strokeWidth": 7, "strokeCap": "square"}, "encoding": {"x": {"datum": 45.45}, "x2": {"datum": 51.6}, "y": {"datum": 0.12}}},
     {"data": {"values": [{"t": "Δ"}]}, "mark": {"type": "text", "font": "DejaVu Sans", "fontSize": 34, "color": "#1b2a5c", "align": "center", "baseline": "middle"}, "encoding": {"x": {"datum": 49.9}, "y": {"datum": 0.35}, "text": {"field": "t"}}}
    ]},
    {"width": 546, "height": 129.5, "layer": [
     {"data": {"name": "b"}, "transform": [{"filter": "datum.a == 43"}], "mark": {"type": "rect", "color": "#ff0000", "stroke": "black", "strokeWidth": 2.5},
      "encoding": {"x": {"field": "lo", "type": "quantitative", "scale": {"domain": [-5, 50.6], "nice": false, "zero": false}, "axis": {"tickCount": 28, "labels": true, "labelExpr": "datum.value % 10 == 0 ? datum.label : ''", "labelOverlap": false, "labelFlush": false, "labelFontSize": 32, "labelPadding": 14, "title": "deg", "titleFont": "Liberation Serif", "titleFontStyle": "italic", "titleFontWeight": "bold", "titleFontSize": 30, "titleColor": "#1a1aff", "titleAnchor": "end", "titleAlign": "right", "titleX": 534, "titleY": 47, "titleBaseline": "middle", "grid": true, "tickSize": -7, "gridOpacity": {"condition": {"test": "datum.value % 10 == 0 && datum.value < 45", "value": 1}, "value": 0}}}, "x2": {"field": "hi"}, "y": {"field": "n", "type": "quantitative", "scale": {"domain": [0, 1], "nice": false}, "axis": null}, "y2": {"datum": 0}}},
     {"data": {"values": [{}]}, "mark": {"type": "rect", "color": "#c8f8c0"}, "encoding": {"x": {"datum": 45.45}, "x2": {"datum": 51.95}, "y": {"datum": 0.127}, "y2": {"datum": 0.613}}},
     {"data": {"values": [{}]}, "mark": {"type": "rule", "color": "#40f010", "strokeWidth": 7, "strokeCap": "butt"}, "encoding": {"x": {"datum": 45.45}, "y": {"datum": 0.127}, "y2": {"datum": 0.613}}},
     {"data": {"values": [{}]}, "mark": {"type": "rule", "color": "#40f010", "strokeWidth": 7, "strokeCap": "square"}, "encoding": {"x": {"datum": 45.45}, "x2": {"datum": 51.6}, "y": {"datum": 0.613}}},
     {"data": {"values": [{}]}, "mark": {"type": "rule", "color": "#40f010", "strokeWidth": 7, "strokeCap": "square"}, "encoding": {"x": {"datum": 45.45}, "x2": {"datum": 51.6}, "y": {"datum": 0.127}}},
     {"data": {"values": [{"t": "Δ"}]}, "mark": {"type": "text", "font": "DejaVu Sans", "fontSize": 34, "color": "#1b2a5c", "align": "center", "baseline": "middle"}, "encoding": {"x": {"datum": 49.9}, "y": {"datum": 0.37}, "text": {"field": "t"}}}
    ]}
   ]
  }
 ]
}
